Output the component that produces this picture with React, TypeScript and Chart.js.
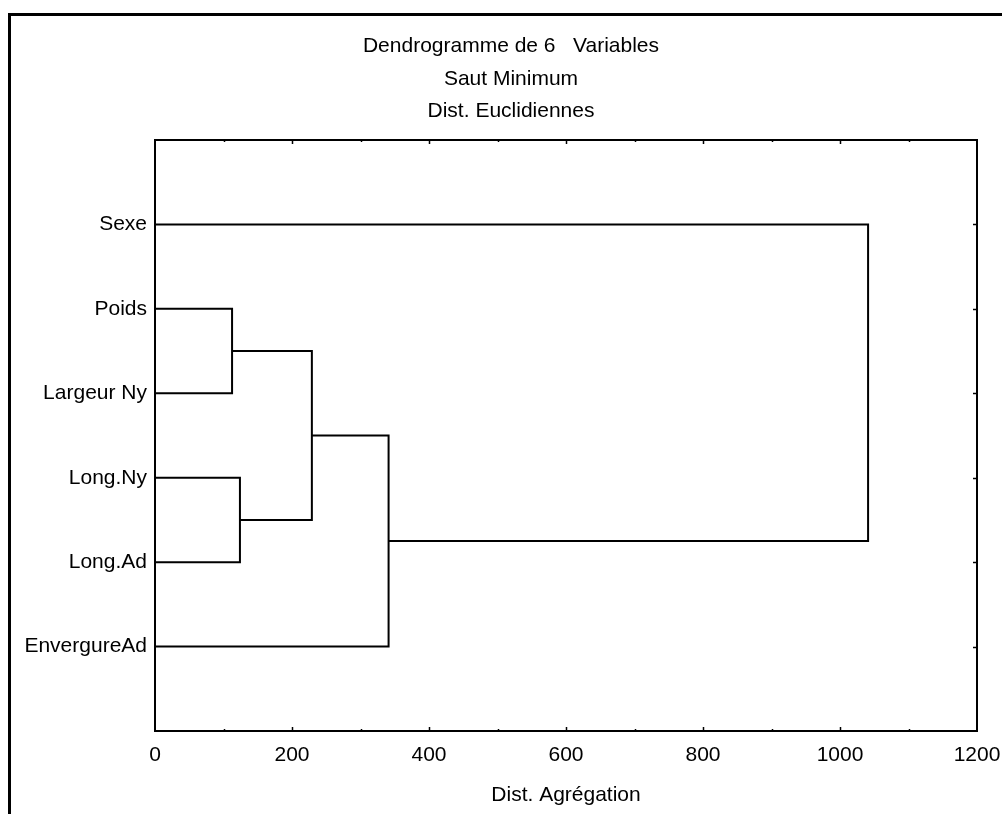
import React, { useEffect, useRef } from "react";
import { Chart, registerables } from "chart.js";

Chart.register(...registerables);

// Leaves, top to bottom
const variables = ["Sexe", "Poids", "Largeur Ny", "Long.Ny", "Long.Ad", "EnvergureAd"];

// Linkage steps: [left member, right member, distance]. Members < 6 are leaves,
// members >= 6 refer to cluster (member - 6) created by an earlier step.
const mergeLeft = [1, 3, 6, 8, 0];
const mergeRight = [2, 4, 7, 5, 9];
const mergeDistance = [112.5, 124, 229, 341, 1041];

const xTicks = [0, 200, 400, 600, 800, 1000, 1200];
const titleLines = ["Dendrogramme de 6   Variables", "Saut Minimum", "Dist. Euclidiennes"];
const axisTitle = "Dist. Agrégation";

const FONT = "'Liberation Sans', Arial, sans-serif";
const FONT_SIZE = 21;

function buildLinks() {
  const nodes: { y: number; h: number }[] = variables.map((_, i) => ({ y: i + 1, h: 0 }));
  const links: { x: number; y: number }[][] = [];
  for (let k = 0; k < mergeDistance.length; k++) {
    const a = nodes[mergeLeft[k]];
    const b = nodes[mergeRight[k]];
    const h = mergeDistance[k];
    links.push([
      { x: a.h, y: a.y },
      { x: h, y: a.y },
      { x: h, y: b.y },
      { x: b.h, y: b.y },
    ]);
    nodes.push({ y: (a.y + b.y) / 2, h });
  }
  return links;
}

const framePlugin = {
  id: "frame",
  afterDraw(chart: any) {
    const { ctx, chartArea: ca, scales } = chart;
    const xs = scales.x;
    const ys = scales.y;
    ctx.save();
    // outer page frame
    ctx.fillStyle = "#000";
    ctx.fillRect(8, 13, 3, 814 - 13);
    ctx.fillRect(8, 13, 1002 - 8, 3);
    // plot frame
    ctx.strokeStyle = "#000";
    ctx.lineWidth = 2;
    ctx.strokeRect(ca.left, ca.top, ca.right - ca.left, ca.bottom - ca.top);
    // inward ticks along top and bottom
    ctx.lineWidth = 1.5;
    for (let v = 100; v < 1200; v += 100) {
      const px = Math.round(xs.getPixelForValue(v)) + 0.5;
      const len = v % 200 === 0 ? 4 : 2;
      ctx.beginPath();
      ctx.moveTo(px, ca.bottom);
      ctx.lineTo(px, ca.bottom - len);
      ctx.moveTo(px, ca.top);
      ctx.lineTo(px, ca.top + len);
      ctx.stroke();
    }
    // inward ticks on the right at each leaf
    for (let i = 1; i <= variables.length; i++) {
      const py = Math.round(ys.getPixelForValue(i)) + 0.5;
      ctx.beginPath();
      ctx.moveTo(ca.right, py);
      ctx.lineTo(ca.right - 4, py);
      ctx.stroke();
    }
    // titles
    ctx.fillStyle = "#000";
    ctx.font = `${FONT_SIZE}px ${FONT}`;
    ctx.textAlign = "center";
    ctx.textBaseline = "alphabetic";
    const baselines = [52, 85, 117];
    titleLines.forEach((t, i) => ctx.fillText(t, 511, baselines[i]));
    ctx.restore();
  },
};

export default function App() {
  const ref = useRef<HTMLCanvasElement>(null);

  useEffect(() => {
    if (!ref.current) return;
    const links = buildLinks();
    const chart = new Chart(ref.current, {
      type: "scatter",
      data: {
        datasets: links.map((pts, i) => ({
          label: `link ${i}`,
          data: pts,
          showLine: true,
          borderColor: "#000",
          borderWidth: 2,
          pointRadius: 0,
          tension: 0,
        })),
      },
      options: {
        animation: false,
        responsive: false,
        layout: { padding: { left: 0, top: 140, right: 25, bottom: 0 } },
        plugins: {
          legend: { display: false },
          tooltip: { enabled: false },
          title: { display: false },
        },
        scales: {
          x: {
            type: "linear",
            min: 0,
            max: 1200,
            afterFit: (s: any) => {
              s.height = 83;
              s.paddingLeft = 0;
              s.paddingRight = 0;
            },
            afterBuildTicks: (s: any) => {
              s.ticks = xTicks.map((v) => ({ value: v }));
            },
            grid: { display: false, drawTicks: false },
            border: { display: false },
            ticks: {
              color: "#000",
              font: { family: FONT, size: FONT_SIZE },
              padding: 12,
              maxRotation: 0,
              callback: (v: any) => String(v),
            },
            title: {
              display: true,
              text: axisTitle,
              color: "#000",
              font: { family: FONT, size: FONT_SIZE },
              padding: { top: 0, bottom: 6 },
            },
          },
          y: {
            type: "linear",
            min: 0,
            max: 7,
            reverse: true,
            afterFit: (s: any) => {
              s.width = 155;
              s.paddingTop = 0;
              s.paddingBottom = 0;
            },
            afterBuildTicks: (s: any) => {
              s.ticks = variables.map((_, i) => ({ value: i + 1 }));
            },
            grid: { display: false, drawTicks: false },
            border: { display: false },
            ticks: {
              color: "#000",
              font: { family: FONT, size: FONT_SIZE },
              padding: 8,
              callback: (v: any) => variables[Number(v) - 1] ?? "",
            },
          },
        },
      },
      plugins: [framePlugin],
    });
    return () => chart.destroy();
  }, []);

  return (
    <div style={{ position: "absolute", left: 0, top: 0, width: 1002, height: 814, background: "#fff" }}>
      <canvas ref={ref} width={1002} height={814} style={{ display: "block" }} />
    </div>
  );
}
